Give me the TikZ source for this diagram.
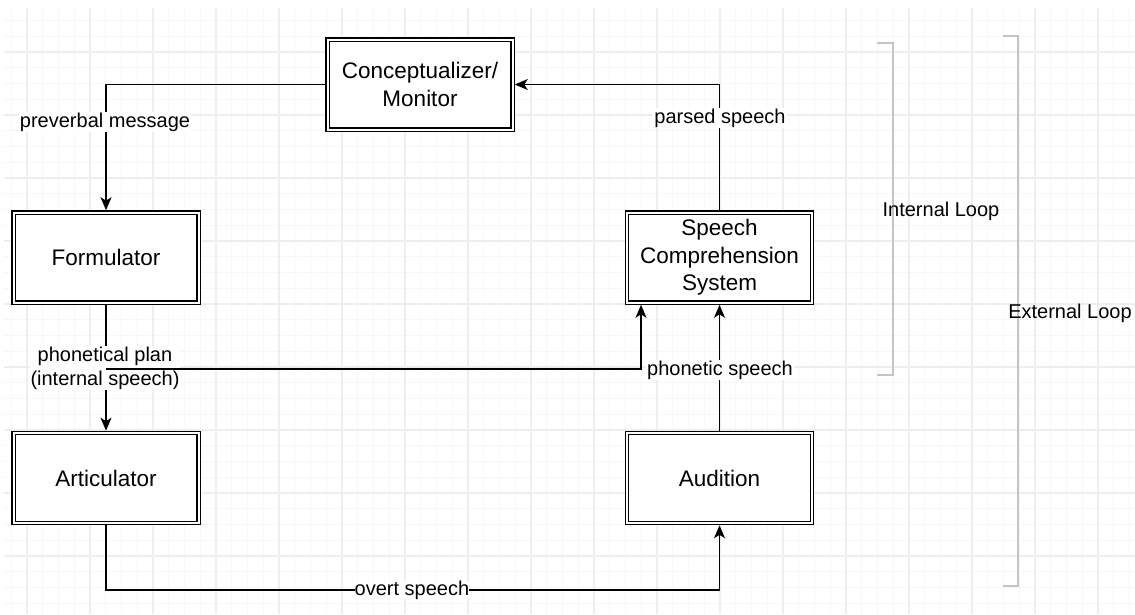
\documentclass[tikz,border=0pt]{standalone}
\usepackage{fontspec}
\setmainfont{Liberation Sans}
\usetikzlibrary{arrows.meta}
\definecolor{gridminor}{HTML}{F7F7F7}
\definecolor{gridmajor}{HTML}{EEEEEE}
\definecolor{bracketgrey}{HTML}{C4C4C4}
\tikzset{
  stage/.style={draw=black, fill=white, double=white, double distance=2pt,
    line width=1.3pt, minimum width=185pt, minimum height=90pt, inner sep=0pt,
    outer sep=2.3pt, align=center, font=\fontsize{22.5}{27.5}\selectfont},
  flow/.style={draw=black, line width=1.4pt,
    -{Stealth[length=13pt, width=11pt, inset=3.5pt]}},
  tag/.style={fill=white, inner sep=1pt, align=center,
    font=\fontsize{20}{24}\selectfont},
  looptag/.style={inner sep=0pt, font=\fontsize{20}{24}\selectfont},
  loopbracket/.style={draw=bracketgrey, line width=2.2pt}
}
\begin{document}
\begin{tikzpicture}[x=1pt, y=-1pt]
\useasboundingbox (0,0) rectangle (1135,614);
\fill[white] (0,0) rectangle (1135,614);

% background grid: minor lines every 15.75, major every 63
\foreach \i in {-1,...,70} {
  \pgfmathsetmacro{\gx}{27+15.75*\i}
  \ifdim\gx pt>4pt \ifdim\gx pt<1135pt
    \draw[gridminor, line width=1pt] (\gx,8) -- (\gx,614);
  \fi\fi
}
\foreach \j in {-3,...,36} {
  \pgfmathsetmacro{\gy}{52+15.75*\j}
  \ifdim\gy pt>8pt \ifdim\gy pt<614pt
    \draw[gridminor, line width=1pt] (4,\gy) -- (1135,\gy);
  \fi\fi
}
\foreach \i in {0,...,17} {
  \draw[gridmajor, line width=1.2pt] (27+63*\i,8) -- (27+63*\i,614);
}
\foreach \j in {0,...,8} {
  \draw[gridmajor, line width=1.2pt] (4,52+63*\j) -- (1135,52+63*\j);
}

% processing stages
\node[stage] (conc) at (420,84.5) {Conceptualizer/\\Monitor};
\node[stage] (form) at (106,257.5) {Formulator};
\node[stage] (artic) at (106,478) {Articulator};
\node[stage] (scs) at (719.5,257.5) {Speech\\Comprehension\\System};
\node[stage] (aud) at (719.5,478) {Audition};

% production path
\draw[flow] (conc.west) -| (form.north);
\node[tag] (preverbal) at (105,122) {preverbal message};

\draw[flow] (form.south) -- (artic.north);
\node[tag] (plan) at (105,368) {phonetical plan\\(internal speech)};

% internal speech goes straight to comprehension
\coordinate (split) at (form.south |- 0,369);
\draw[flow] (split) -| ([xshift=-78.5pt]scs.south);

% external path
\draw[flow] (artic.south) |- (412,590) -| (aud.south);
\node[tag, inner sep=0pt] (overt) at (412,590) {overt speech};

\draw[flow] (aud.north) -- (scs.south);
\node[tag] (phonetic) at (720,370) {phonetic speech};

\draw[flow] (scs.north) |- (conc.east);
\node[tag] (parsed) at (720,118) {parsed speech};

% loop brackets
\draw[loopbracket] (877,43) -- (893,43) -- (893,375) -- (877,375);
\node[looptag] (internal) at (941,211) {Internal Loop};
\draw[loopbracket] (1003,36) -- (1018,36) -- (1018,586) -- (1003,586);
\node[looptag] (external) at (1070,313) {External Loop};
\end{tikzpicture}
\end{document}
